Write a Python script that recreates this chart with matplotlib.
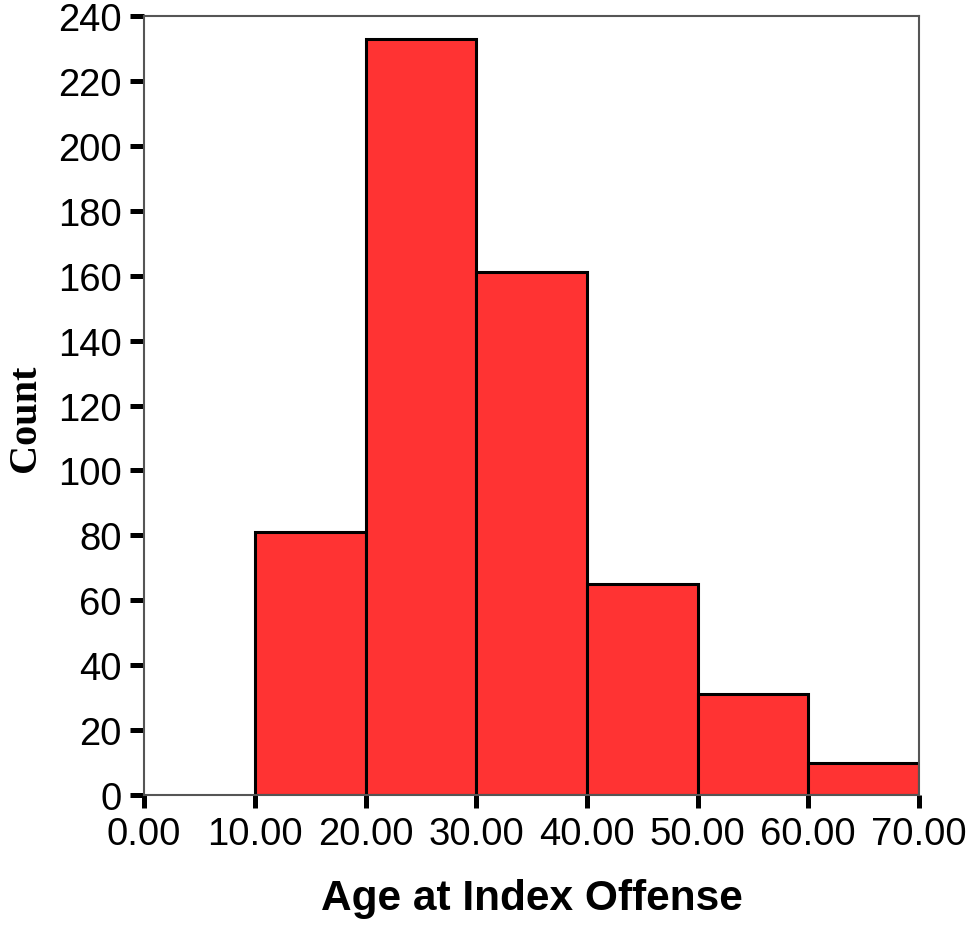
import numpy as np
import matplotlib
matplotlib.use('Agg')
import matplotlib.pyplot as plt

bin_edges = [10, 20, 30, 40, 50, 60, 70]
counts = [81, 233, 161, 65, 31, 10]
x_ticks = [0, 10, 20, 30, 40, 50, 60, 70]
y_ticks = [0, 20, 40, 60, 80, 100, 120, 140, 160, 180, 200, 220, 240]

fig = plt.figure(figsize=(9.74, 9.28), dpi=100)
ax = fig.add_axes([0.148, 0.1422, 0.7955, 0.8395])

ax.bar(bin_edges[:-1], counts, width=np.diff(bin_edges), align='edge',
       color='#ff3333', edgecolor='black', linewidth=2.2, zorder=2)

ax.set_xlim(0, 70)
ax.set_ylim(0, 240)
ax.set_xticks(x_ticks)
ax.set_xticklabels(['%.2f' % v for v in x_ticks])
ax.set_yticks(y_ticks)

for s in ax.spines.values():
    s.set_color('#555555')
    s.set_linewidth(1.5)

ax.tick_params(axis='y', direction='out', length=10, width=3.6, color='black',
               labelsize=27.5, pad=6)
ax.tick_params(axis='x', direction='out', length=9, width=3.6, color='black',
               labelsize=27.5, pad=6)
for lab in ax.get_xticklabels() + ax.get_yticklabels():
    lab.set_family('Liberation Sans')

ax.set_xlabel('Age at Index Offense', fontsize=30.5, fontweight='bold',
              family='Liberation Sans')
ax.xaxis.set_label_coords(0.5, -0.106)
ax.set_ylabel('Count', fontsize=29, fontweight='bold',
              family='Liberation Serif')
ax.yaxis.set_label_coords(-0.129, 0.485)

plt.savefig('out.png', dpi=100)
